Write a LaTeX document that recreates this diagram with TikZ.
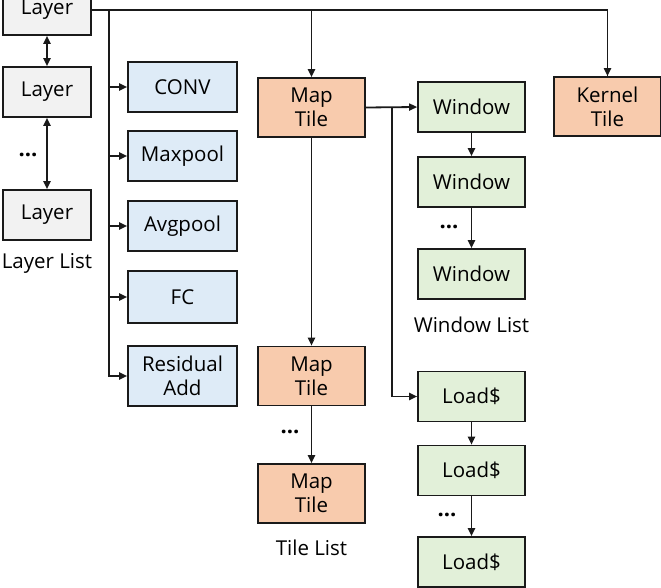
\documentclass[tikz,border=0pt]{standalone}
\usepackage{fontspec}
\setmainfont{Open Sans}
\usepackage{tikz}
\usetikzlibrary{arrows.meta}

\definecolor{laygray}{HTML}{F2F2F2}
\definecolor{opblue}{HTML}{DEEBF7}
\definecolor{tileorange}{HTML}{F8CBAD}
\definecolor{wingreen}{HTML}{E2F0D9}
\definecolor{edgegray}{HTML}{1A1A1A}

\begin{document}
\begin{tikzpicture}[x=1pt,y=-1pt,->,>={Triangle[length=8pt,width=7pt]},
                    line width=1.8pt,draw=edgegray]
\tikzstyle{box}=[draw=edgegray,line width=1.6pt,inner sep=1pt,align=center,minimum height=50pt,minimum width=107pt]
\tikzstyle{lay}=[box,fill=laygray,minimum width=88pt]
\tikzstyle{op}=[box,fill=opblue,minimum width=109pt]
\tikzstyle{tile}=[box,fill=tileorange,minimum height=59pt]
\tikzstyle{win}=[box,fill=wingreen]
\tikzstyle{dots}=[inner sep=0pt,font=\fontsize{22pt}{24pt}\selectfont\bfseries]
\tikzset{font=\fontsize{20.5pt}{24pt}\selectfont}

        \useasboundingbox (0,0) rectangle (661,588);
        \clip (0,0) rectangle (661,588);

        % layer list
        \node[lay]                          (L1)   at (47,10)           {Layer};
        \node[lay, node distance=82pt]      (L2)   [below of=L1]        {Layer};
        \node[lay, node distance=123pt]     (L3)   [below of=L2]        {Layer};
        \node[dots]                         (dl)   at (28,155)          {...};
        \node[draw=none, node distance=48pt] (LL)  [below of=L3]        {Layer List};

        % layer types
        \node[op]                           (conv) at (182.5,87)        {CONV};
        \node[op, node distance=69pt]       (maxp) [below of=conv]      {Maxpool};
        \node[op, node distance=70pt]       (avgp) [below of=maxp]      {Avgpool};
        \node[op, node distance=71pt, minimum height=52pt] (fc) [below of=avgp] {FC};
        \node[op, node distance=79pt, minimum height=60pt] (res) [below of=fc]  {Residual\\Add};

        % tile list
        \node[tile]                         (mt1)  at (311.5,107.5)     {Map\\Tile};
        \node[tile]                         (mt2)  at (311.5,376)       {Map\\Tile};
        \node[tile, node distance=117.5pt]  (mt3)  [below of=mt2]       {Map\\Tile};
        \node[dots]                         (dt)   at (290,432)         {...};
        \node[draw=none, node distance=54.5pt] (TL) [below of=mt3]      {Tile List};

        % window list
        \node[win]                          (w1)   at (471.5,107)       {Window};
        \node[win, node distance=75pt]      (w2)   [below of=w1]        {Window};
        \node[win, node distance=92pt]      (w3)   [below of=w2]        {Window};
        \node[dots]                         (dw)   at (449,227)         {...};
        \node[draw=none, node distance=51pt] (WL)  [below of=w3]        {Window List};

        % load list
        \node[win]                          (ld1)  at (471.5,396.5)     {Load\$};
        \node[win, node distance=74pt]      (ld2)  [below of=ld1]       {Load\$};
        \node[win, node distance=91.5pt]    (ld3)  [below of=ld2]       {Load\$};
        \node[dots]                         (dd)   at (447,515)         {...};

        \node[tile]                         (kt)   at (607.5,106.5)     {Kernel\\Tile};

        \coordinate (bus) at (109,10);
        \coordinate (br)  at (392,107);

        \draw[-] (L1.east) -| (kt.north);
        \draw (L1.east -| kt.north) -- (kt.north);
        \draw (L1.east -| mt1.north) -- (mt1.north);
        \draw[<->] (L1) -- (L2);
        \draw[<->] (L2) -- (L3);

        \draw (bus) |- (res.west);
        \draw (bus |- conv.west) -- (conv.west);
        \draw (bus |- maxp.west) -- (maxp.west);
        \draw (bus |- avgp.west) -- (avgp.west);
        \draw (bus |- fc.west)   -- (fc.west);

        \draw (mt1) -- (mt2);
        \draw (mt2) -- (mt3);
        \draw (mt1.east) -- (w1.west);
        \draw (br) |- (ld1.west);
        \draw (w1) -- (w2);
        \draw (w2) -- (w3);
        \draw (ld1) -- (ld2);
        \draw (ld2) -- (ld3);

\end{tikzpicture}
\end{document}
